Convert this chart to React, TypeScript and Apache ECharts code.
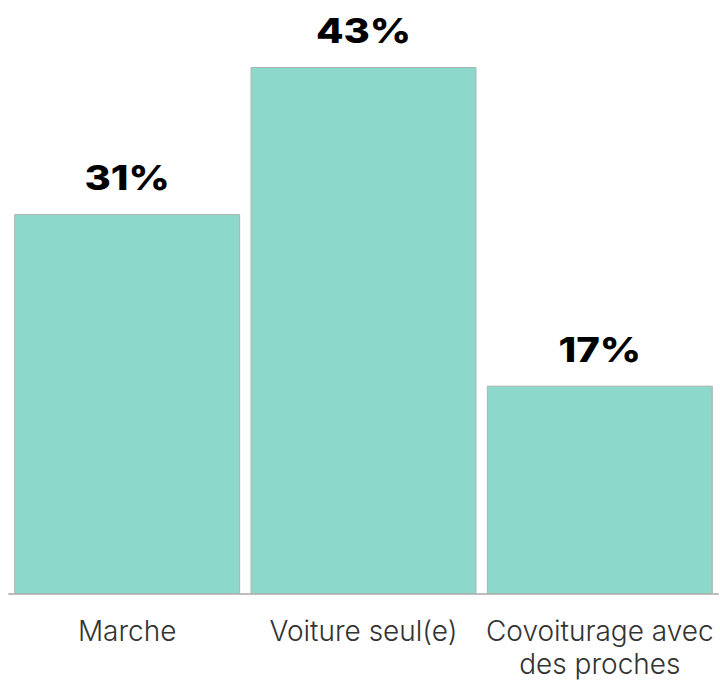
import React, { useEffect, useRef } from "react";
import * as echarts from "echarts";

const categories = ["Marche", "Voiture seul(e)", "Covoiturage avec des proches"];
const values = [31, 43, 17];

export default function App() {
  const ref = useRef<HTMLDivElement>(null);
  useEffect(() => {
    document.body.style.margin = "0";
    if (!ref.current) return;
    const chart = echarts.init(ref.current, undefined, { renderer: "svg" });
    chart.setOption({
      animation: false,
      grid: { left: 9, right: 2, top: 67, bottom: 87, containLabel: false },
      xAxis: {
        type: "category",
        data: categories,
        axisTick: { show: false },
        axisLine: { show: true, lineStyle: { color: "#bdbdbd", width: 2 } },
        axisLabel: {
          interval: 0,
          margin: 20,
          color: "#333333",
          fontFamily: "Inter",
          fontWeight: 300,
          fontSize: 28,
          lineHeight: 33,
          formatter: (v: string) => v.replace(" des ", "\ndes "),
        },
      },
      yAxis: {
        type: "value",
        min: 0,
        max: 43,
        show: false,
        splitLine: { show: false },
      },
      series: [
        {
          type: "bar",
          data: values,
          barCategoryGap: "4.4%",
          itemStyle: { color: "#8cd8ca", borderColor: "#a9b5b2", borderWidth: 1 },
        },
        {
          type: "custom",
          data: values.map((v, i) => [i, v]),
          silent: true,
          renderItem: (params: any, api: any) => {
            const p = api.coord([api.value(0), api.value(1)]);
            return {
              type: "text",
              x: p[0],
              y: p[1] - 19,
              scaleX: 1.18,
              style: {
                text: api.value(1) + "%",
                fill: "#000000",
                font: "800 34px Inter",
                align: "center",
                verticalAlign: "bottom",
              },
            };
          },
        },
      ],
    });
    return () => chart.dispose();
  }, []);
  return <div ref={ref} style={{ width: 720, height: 681 }} />;
}
